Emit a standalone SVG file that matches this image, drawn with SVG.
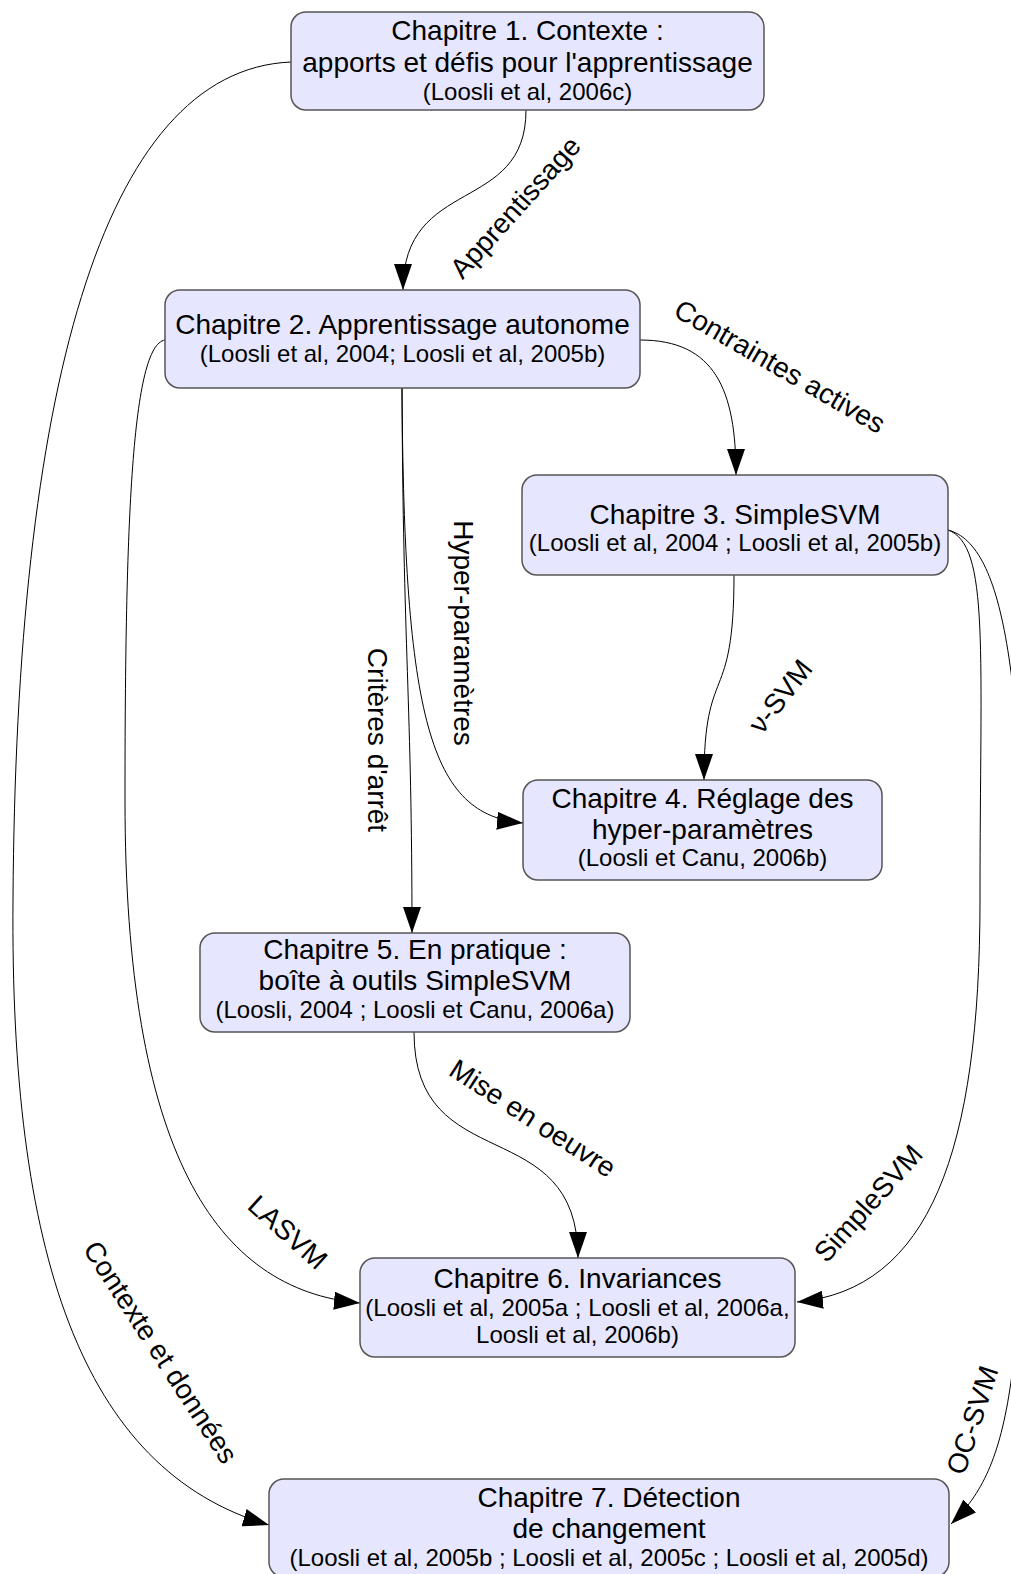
<svg xmlns="http://www.w3.org/2000/svg" width="1011" height="1574" viewBox="0 0 1011 1574">
  <style>
    .box { fill: #e6e6ff; stroke: #555555; stroke-width: 1.5; }
    .t { font-family: "Liberation Sans", Arial, sans-serif; font-size: 28px; fill: #000; text-anchor: middle; }
    .c { font-family: "Liberation Sans", Arial, sans-serif; font-size: 24px; fill: #000; text-anchor: middle; }
    .edge { fill: none; stroke: #000; stroke-width: 1; marker-end: url(#arrow); }
    .lbl { font-family: "Liberation Sans", Arial, sans-serif; font-size: 28px; fill: #000; text-anchor: middle; }
  </style>
  <defs>
    <marker id="arrow" markerUnits="userSpaceOnUse" markerWidth="26" markerHeight="18" refX="26" refY="9" orient="auto">
      <path d="M0,0 L26,9 L0,18 z" fill="#000"/>
    </marker>
  </defs>
  <rect width="1011" height="1574" fill="#ffffff"/>

  <!-- connectors -->
  <g id="connectors">
    <path class="edge" d="M 526 110 C 526 215, 403 175, 403 290"/>
    <path class="edge" d="M 640 340 C 715 340, 736 390, 736 475"/>
    <path class="edge" d="M 402 388 C 404 720, 430 815, 523 823"/>
    <path class="edge" d="M 402 388 C 403 650, 412 700, 412 933"/>
    <path class="edge" d="M 734 575 C 734 710, 704 660, 704 780"/>
    <path class="edge" d="M 948 530 C 990 545, 980 650, 980 900 C 980 1150, 930 1290, 797 1302"/>
    <path class="edge" d="M 948 530 C 1005 545, 1025 680, 1025 1000 C 1025 1380, 1012 1465, 951 1524"/>
    <path class="edge" d="M 165 340 C 132 345, 125 520, 125 800 C 125 1150, 215 1290, 360 1303"/>
    <path class="edge" d="M 291 62 C 100 70, 16 400, 13 900 C 10 1250, 80 1470, 269 1525"/>
    <path class="edge" d="M 414 1032 C 414 1180, 578 1110, 578 1258"/>

    <text class="lbl" transform="translate(515,207) rotate(-48)" y="10">Apprentissage</text>
    <text class="lbl" transform="translate(780,366) rotate(30)" y="10">Contraintes actives</text>
    <text class="lbl" transform="translate(464,633) rotate(90)" y="10">Hyper-paramètres</text>
    <text class="lbl" transform="translate(378,740) rotate(90)" y="10">Critères d'arrêt</text>
    <text class="lbl" transform="translate(780,696) rotate(-52)" y="10">ν-SVM</text>
    <text class="lbl" transform="translate(533,1118) rotate(33)" y="10">Mise en oeuvre</text>
    <text class="lbl" transform="translate(288,1232) rotate(42)" y="10">LASVM</text>
    <text class="lbl" transform="translate(868,1203) rotate(-48)" y="10">SimpleSVM</text>
    <text class="lbl" transform="translate(972,1420) rotate(-72)" y="10">OC-SVM</text>
    <text class="lbl" transform="translate(161,1352) rotate(57)" y="10">Contexte et données</text>
  </g>

  <!-- chapter nodes -->
  <g id="ch1">
    <rect class="box" x="291" y="12" width="473" height="98" rx="15"/>
    <text class="t" x="527.5" y="40">Chapitre 1. Contexte :</text>
    <text class="t" x="527.5" y="72">apports et défis pour l'apprentissage</text>
    <text class="c" x="527.5" y="100">(Loosli et al, 2006c)</text>
  </g>
  <g id="ch2">
    <rect class="box" x="165" y="290" width="475" height="98" rx="15"/>
    <text class="t" x="402.5" y="334">Chapitre 2. Apprentissage autonome</text>
    <text class="c" x="402.5" y="362">(Loosli et al, 2004; Loosli et al, 2005b)</text>
  </g>
  <g id="ch3">
    <rect class="box" x="522" y="475" width="426" height="100" rx="15"/>
    <text class="t" x="735" y="524">Chapitre 3. SimpleSVM</text>
    <text class="c" x="735" y="551">(Loosli et al, 2004 ; Loosli et al, 2005b)</text>
  </g>
  <g id="ch4">
    <rect class="box" x="523" y="780" width="359" height="100" rx="15"/>
    <text class="t" x="702.5" y="808">Chapitre 4. Réglage des</text>
    <text class="t" x="702.5" y="839">hyper-paramètres</text>
    <text class="c" x="702.5" y="866">(Loosli et Canu, 2006b)</text>
  </g>
  <g id="ch5">
    <rect class="box" x="200" y="933" width="430" height="99" rx="15"/>
    <text class="t" x="415" y="959">Chapitre 5. En pratique :</text>
    <text class="t" x="415" y="990">boîte à outils SimpleSVM</text>
    <text class="c" x="415" y="1018">(Loosli, 2004 ; Loosli et Canu, 2006a)</text>
  </g>
  <g id="ch6">
    <rect class="box" x="360" y="1258" width="435" height="99" rx="15"/>
    <text class="t" x="577.5" y="1288">Chapitre 6. Invariances</text>
    <text class="c" x="577.5" y="1316">(Loosli et al, 2005a ; Loosli et al, 2006a,</text>
    <text class="c" x="577.5" y="1343">Loosli et al, 2006b)</text>
  </g>
  <g id="ch7">
    <rect class="box" x="269" y="1479" width="680" height="98" rx="15"/>
    <text class="t" x="609" y="1507">Chapitre 7. Détection</text>
    <text class="t" x="609" y="1538">de changement</text>
    <text class="c" x="609" y="1566">(Loosli et al, 2005b ; Loosli et al, 2005c ; Loosli et al, 2005d)</text>
  </g>
</svg>
